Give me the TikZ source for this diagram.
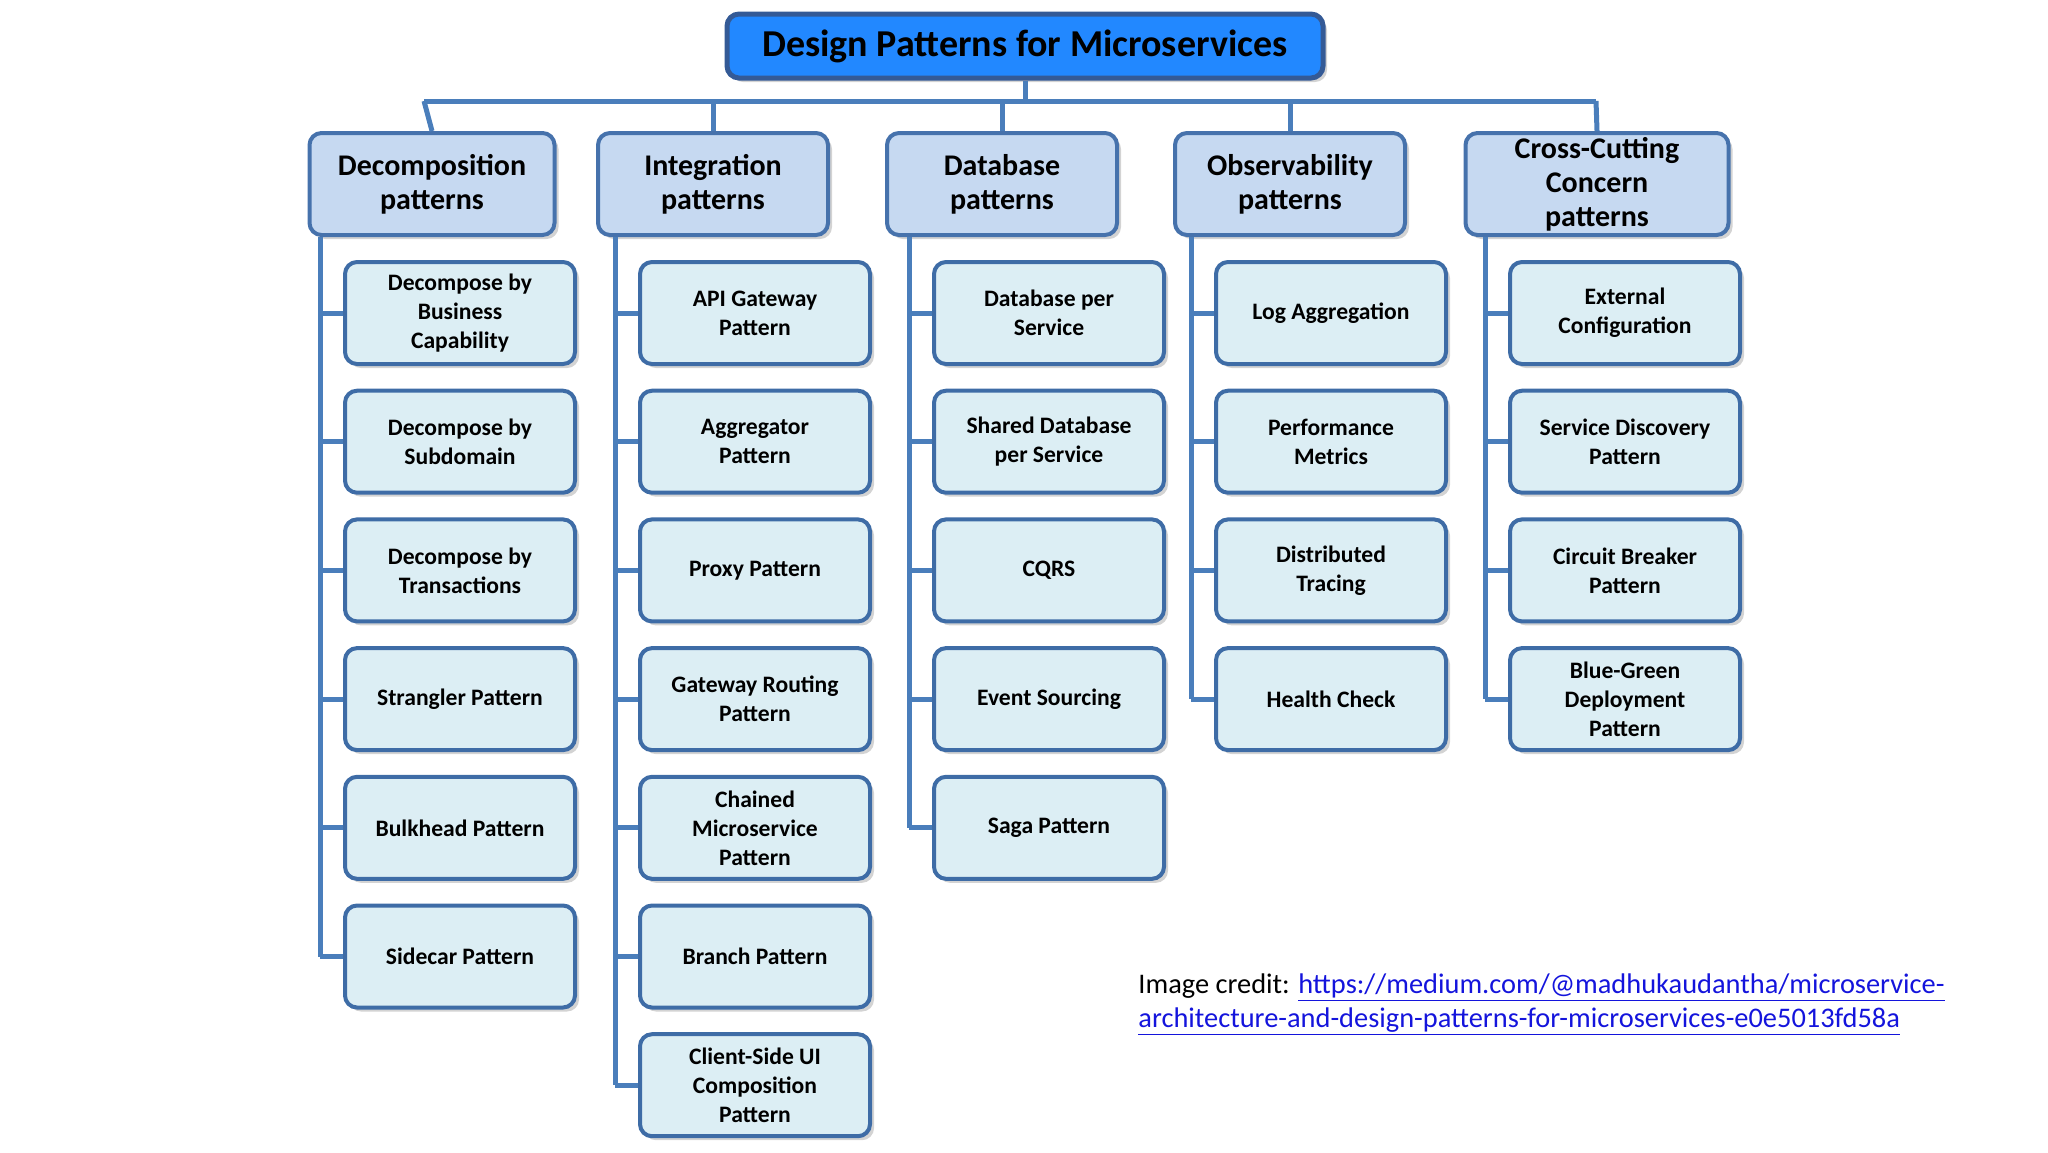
\documentclass[tikz,border=0pt]{standalone}
\usepackage{fontspec}
\setmainfont{Carlito}
\usetikzlibrary{positioning,shadows,calc}
\definecolor{linecol}{RGB}{74,126,187}
\definecolor{titlefill}{RGB}{34,136,255}
\definecolor{titleline}{RGB}{52,90,150}
\definecolor{headfill}{RGB}{198,217,241}
\definecolor{headline}{RGB}{70,114,172}
\definecolor{kidfill}{RGB}{220,238,244}
\definecolor{kidline}{RGB}{62,108,166}
\definecolor{urlcol}{RGB}{20,20,220}

\begin{document}
\begin{tikzpicture}[x=0.5pt,y=-0.5pt,
    titlebox/.style={draw=titleline, fill=titlefill, line width=2.5pt, rounded corners=6pt,
      minimum width=298pt, minimum height=32pt, font=\fontsize{19}{22}\selectfont\bfseries,
      drop shadow={shadow xshift=2pt, shadow yshift=-2pt, opacity=0.35}},
    headbox/.style={draw=headline, fill=headfill, line width=2pt, rounded corners=6pt,
      minimum width=#1, minimum height=51pt, inner sep=0pt, align=center,
      font=\fontsize{15}{17}\selectfont\bfseries,
      drop shadow={shadow xshift=2pt, shadow yshift=-2pt, opacity=0.35}},
    headbox/.default=115pt,
    kidbox/.style={draw=kidline, fill=kidfill, line width=2pt, rounded corners=6pt,
      minimum width=115pt, minimum height=51pt, inner sep=0pt, align=center,
      font=\fontsize{11.8}{14.5}\selectfont\bfseries,
      drop shadow={shadow xshift=2pt, shadow yshift=-2pt, opacity=0.35}},
    link/.style={draw=linecol, line width=2.5pt}]
  \useasboundingbox (0,0) rectangle (2048,1152);
  \def \pitch {128.7}
  \def \top {313}

  % title and bus
  \node[titlebox] (title) at (1025,46) {Design Patterns for Microservices};
  \coordinate (busL) at (424,101);
  \coordinate (busR) at (1596,101);
  \draw[link] (busL) -- (busR);
  \draw[link] (title.south) -- (title.south |- busL);

  % group headers
  \node[headbox=122.5pt] (deco) at (432,184) {Decomposition\\patterns};
  \node[headbox] (integ) at (713,184) {Integration\\patterns};
  \node[headbox] (dbase) at (1002,184) {Database\\patterns};
  \node[headbox] (obser) at (1290,184) {Observability\\patterns};
  \node[headbox=131.5pt] (cross) at (1597,184) {Cross-Cutting\\Concern\\patterns};
  \draw[link] (deco.north) -- (busL);
  \foreach \h in {integ,dbase,obser}
    \draw[link] (\h.north) -- (\h.north |- busL);
  \draw[link] (cross.north) -- (busR);

  % spines
  \coordinate (s1) at (320,0);
  \coordinate (s2) at (615,0);
  \coordinate (s3) at (909,0);
  \coordinate (s4) at (1191,0);
  \coordinate (s5) at (1485,0);

  % decomposition
  \foreach \t [count=\r] in {{Decompose by\\Business\\Capability},{Decompose by\\Subdomain},
      {Decompose by\\Transactions},{Strangler Pattern},{Bulkhead Pattern},{Sidecar Pattern}}
  {
    \node[kidbox] (deco\r) at (460,{\top+\pitch*(\r-1)}) {\t};
    \draw[link] (deco\r.west) -- (deco\r.west -| s1);
  }
  \draw[link] (deco.south -| s1) -- (deco6.west -| s1);

  % integration
  \foreach \t [count=\r] in {{API Gateway\\Pattern},{Aggregator\\Pattern},{Proxy Pattern},
      {Gateway Routing\\Pattern},{Chained\\Microservice\\Pattern},{Branch Pattern},
      {Client-Side UI\\Composition\\Pattern}}
  {
    \node[kidbox] (integ\r) at (755,{\top+\pitch*(\r-1)}) {\t};
    \draw[link] (integ\r.west) -- (integ\r.west -| s2);
  }
  \draw[link] (integ.south -| s2) -- (integ7.west -| s2);

  % database
  \foreach \t [count=\r] in {{Database per\\Service},{Shared Database\\per Service},{CQRS},
      {Event Sourcing},{Saga Pattern}}
  {
    \node[kidbox] (dbase\r) at (1049,{\top+\pitch*(\r-1)}) {\t};
    \draw[link] (dbase\r.west) -- (dbase\r.west -| s3);
  }
  \draw[link] (dbase.south -| s3) -- (dbase5.west -| s3);

  % observability
  \foreach \t [count=\r] in {{Log Aggregation},{Performance\\Metrics},{Distributed\\Tracing},
      {Health Check}}
  {
    \node[kidbox] (obser\r) at (1331,{\top+\pitch*(\r-1)}) {\t};
    \draw[link] (obser\r.west) -- (obser\r.west -| s4);
  }
  \draw[link] (obser.south -| s4) -- (obser4.west -| s4);

  % cross-cutting
  \foreach \t [count=\r] in {{External\\Configuration},{Service Discovery\\Pattern},
      {Circuit Breaker\\Pattern},{Blue-Green\\Deployment\\Pattern}}
  {
    \node[kidbox] (cross\r) at (1625,{\top+\pitch*(\r-1)}) {\t};
    \draw[link] (cross\r.west) -- (cross\r.west -| s5);
  }
  \draw[link] (cross.south -| s5) -- (cross4.west -| s5);

  % credit
  \node[anchor=base west, inner sep=0pt, font=\fontsize{14.2}{17}\selectfont] (credit1) at (1138,993)
    {Image credit: \textcolor{urlcol}{\underline{https://medium.com/@madhukaudantha/microservice-}}};
  \node[anchor=base west, inner sep=0pt, font=\fontsize{14.2}{17}\selectfont] (credit2) at (1138,1027)
    {\textcolor{urlcol}{\underline{architecture-and-design-patterns-for-microservices-e0e5013fd58a}}};
\end{tikzpicture}
\end{document}
